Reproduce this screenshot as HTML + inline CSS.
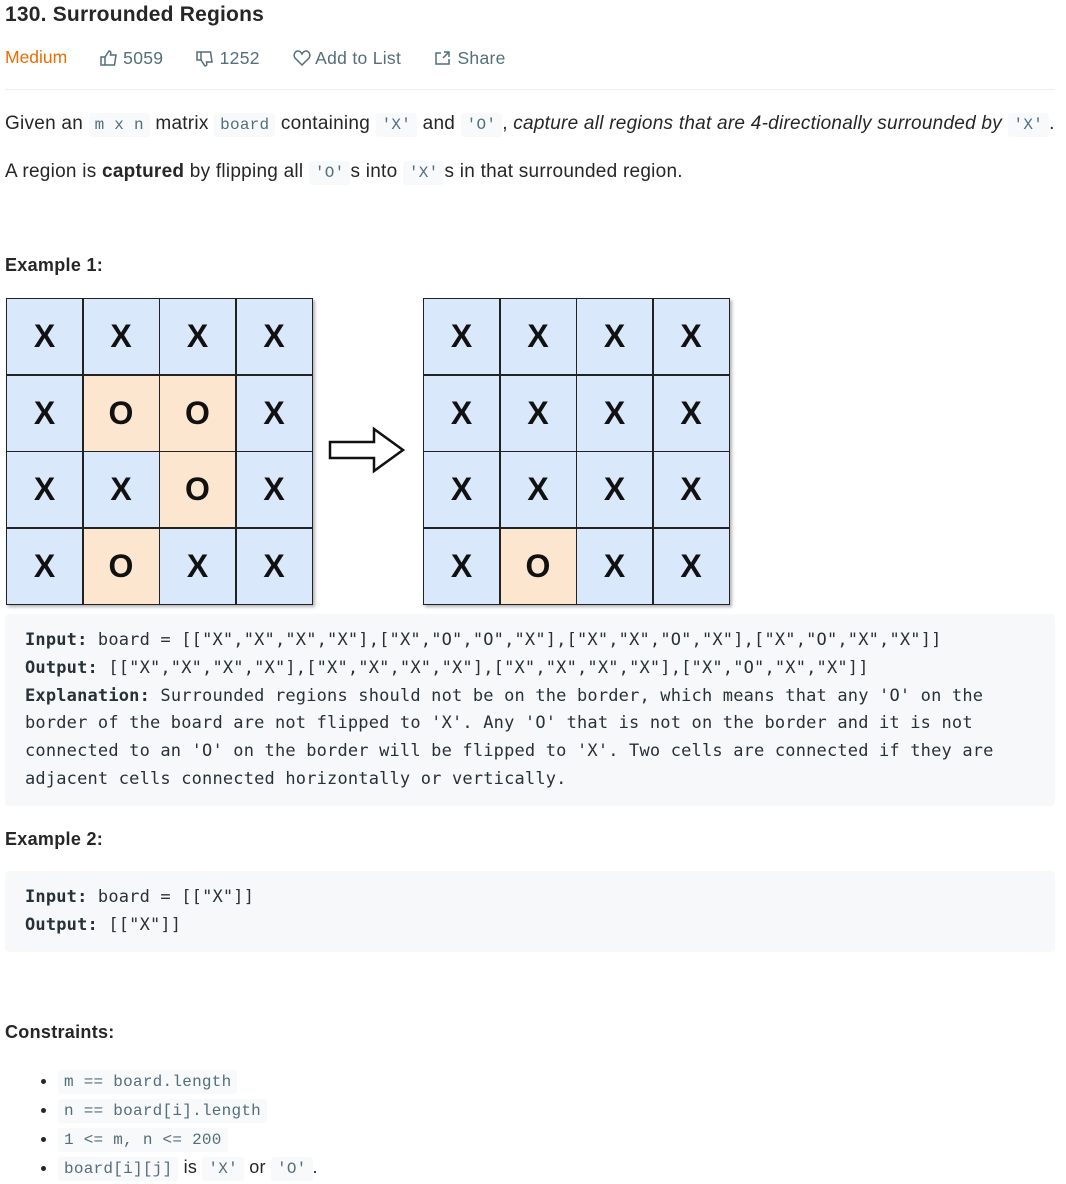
<!DOCTYPE html>
<html><head><meta charset="utf-8"><style>
body{margin:0;width:1066px;height:1178px;background:#fff;font-family:"Liberation Sans",sans-serif;color:#263238;position:relative;overflow:hidden}
.a{position:absolute;white-space:nowrap}
code{font-family:"Liberation Mono",monospace;font-size:16px;color:#546e7a;background:#f7f9fa;padding:3px 6px;border-radius:3px}
.p{font-size:19px;letter-spacing:.25px;color:#262626}
pre{position:absolute;margin:0;background:#f7f8fa;border-radius:4px;font-family:"DejaVu Sans Mono",monospace;font-size:17px;letter-spacing:.18px;line-height:27.8px;color:#263238;padding:12px 20px;box-sizing:border-box;left:5px;width:1050px}
pre b{font-weight:bold}
.h{font-size:18px;font-weight:bold;color:#262626;letter-spacing:.3px}
.g{position:absolute;display:grid;grid-template-columns:repeat(4,75px);grid-template-rows:repeat(4,75px);border:1.5px solid #222;box-shadow:2px 2px 3px rgba(0,0,0,.3);background:#222;gap:1.5px}
.g div{background:#dae8fc;display:flex;align-items:center;justify-content:center;font-size:32px;font-weight:bold;color:#111}
.g div.o{background:#fce6cf}
li{margin:0;height:29px}
</style></head><body>
<div class="a" style="left:5px;top:3px;font-size:21px;font-weight:bold;color:#262626;letter-spacing:.2px">130. Surrounded Regions</div>
<div class="a" style="left:5px;top:47px;font-size:17.5px;color:#ef6c00">Medium</div>
<div class="a" style="left:100px;top:48px;font-size:17.5px;color:#546e7a;letter-spacing:.3px">
<svg width="18" height="16" viewBox="0 0 18 16" style="vertical-align:-2px"><path d="M1 7h4v8H1zM5 7l4-6c2 0 2 2 1.5 4H16l-1.5 10H5" fill="none" stroke="#546e7a" stroke-width="1.5"/></svg> 5059
<span style="margin-left:28px"><svg width="18" height="16" viewBox="0 0 18 16" style="vertical-align:-3px"><path d="M1 1h4v8H1zM5 9l4 6c2 0 2-2 1.5-4H16L14.5 1H5" fill="none" stroke="#546e7a" stroke-width="1.5"/></svg> 1252</span>
<span style="margin-left:28px"><svg width="18" height="16" viewBox="0 0 18 16" style="vertical-align:-2px"><path d="M9 15L2 8C0 5 2 1 5 1c2 0 3 1 4 3 1-2 2-3 4-3 3 0 5 4 3 7z" fill="none" stroke="#546e7a" stroke-width="1.5"/></svg> Add to List</span>
<span style="margin-left:28px"><svg width="18" height="16" viewBox="0 0 18 16" style="vertical-align:-2px"><path d="M7 3H2v11h13V9M10 2h5v5M15 2l-6 6" fill="none" stroke="#546e7a" stroke-width="1.5"/></svg> Share</span></div>
<div class="a" style="left:5px;top:89px;width:1050px;height:1px;background:#eceff1"></div>
<div class="a p" style="left:5px;top:113px">Given an <code>m x n</code> matrix <code>board</code> containing <code>'X'</code> and <code>'O'</code>, <i>capture all regions that are 4-directionally surrounded by</i> <code>'X'</code>.</div>
<div class="a p" style="left:5px;top:161px">A region is <b>captured</b> by flipping all <code>'O'</code>s into <code>'X'</code>s in that surrounded region.</div>
<div class="a h" style="left:5px;top:255px">Example 1:</div>
<div class="g" style="left:6px;top:298px"><div>X</div><div>X</div><div>X</div><div>X</div><div>X</div><div class="o">O</div><div class="o">O</div><div>X</div><div>X</div><div>X</div><div class="o">O</div><div>X</div><div>X</div><div class="o">O</div><div>X</div><div>X</div></div>
<svg class="a" style="left:328px;top:426px" width="80" height="50"><path d="M2 16H46V3L75 24L46 45V32H2Z" fill="#fff" stroke="#111" stroke-width="2.5"/></svg>
<div class="g" style="left:423px;top:298px"><div>X</div><div>X</div><div>X</div><div>X</div><div>X</div><div>X</div><div>X</div><div>X</div><div>X</div><div>X</div><div>X</div><div>X</div><div>X</div><div class="o">O</div><div>X</div><div>X</div></div>
<pre style="top:614px;height:192px;padding-top:13px"><b>Input:</b> board = [["X","X","X","X"],["X","O","O","X"],["X","X","O","X"],["X","O","X","X"]]
<b>Output:</b> [["X","X","X","X"],["X","X","X","X"],["X","X","X","X"],["X","O","X","X"]]
<b>Explanation:</b> Surrounded regions should not be on the border, which means that any 'O' on the
border of the board are not flipped to 'X'. Any 'O' that is not on the border and it is not
connected to an 'O' on the border will be flipped to 'X'. Two cells are connected if they are
adjacent cells connected horizontally or vertically.</pre>
<div class="a h" style="left:5px;top:829px">Example 2:</div>
<pre style="top:871px;height:81px;padding-top:13px"><b>Input:</b> board = [["X"]]
<b>Output:</b> [["X"]]</pre>
<div class="a h" style="left:5px;top:1022px">Constraints:</div>
<ul class="a p" style="left:0;top:1066px;margin:0;padding-left:58px;line-height:29px;font-size:18px">
<li><code>m == board.length</code></li>
<li><code>n == board[i].length</code></li>
<li><code>1 &lt;= m, n &lt;= 200</code></li>
<li><code>board[i][j]</code> is <code>'X'</code> or <code>'O'</code>.</li>
</ul>
</body></html>
